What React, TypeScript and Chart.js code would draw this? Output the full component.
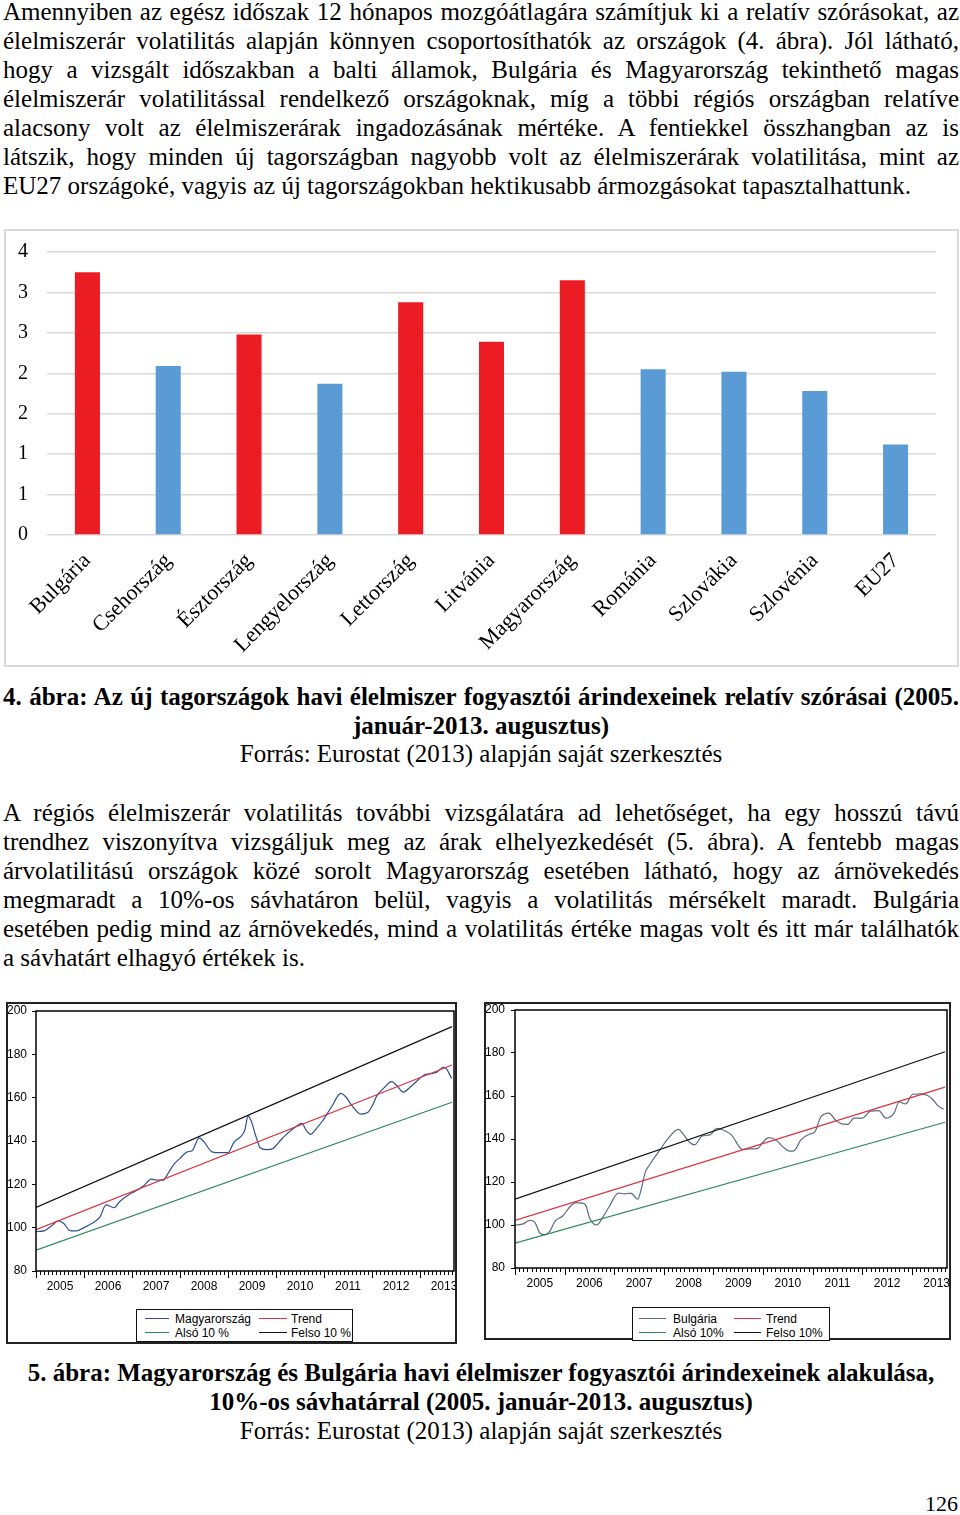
import React, { useEffect, useRef } from "react";
import { Chart, registerables } from "chart.js";

Chart.register(...registerables);

// ---------- Figure 4 data ----------
const barCategories = [
  "Bulgária", "Csehország", "Észtország", "Lengyelország", "Lettország", "Litvánia",
  "Magyarország", "Románia", "Szlovákia", "Szlovénia", "EU27",
];
const barValues = [3.25, 2.09, 2.48, 1.87, 2.88, 2.39, 3.15, 2.05, 2.02, 1.78, 1.12];
const highVolatility = [true, false, true, false, true, true, true, false, false, false, false];
const barTickValues = [0, 0.5, 1, 1.5, 2, 2.5, 3, 3.5];
const barTickLabels = ["0", "1", "1", "2", "2", "3", "3", "4"];

// ---------- Figure 5 data ----------
const yearLabels = ["2005", "2006", "2007", "2008", "2009", "2010", "2011", "2012", "2013"];
const lineTickValues = [80, 100, 120, 140, 160, 180, 200];
const bandMonths = [0, 104];

const huMonths = [0, 2, 4, 5.5, 7, 8.5, 10, 12, 14, 16, 17.5, 19.5, 21, 23, 25, 27, 28.8, 30, 31.8, 33,
  34.5, 36, 37.8, 39, 40.8, 42, 44, 46, 48, 49.5, 51.3, 52.2, 53, 53.7, 55, 56, 57.5, 59.3, 61, 62,
  64.5, 66.5, 67.5, 68.7, 70, 71.8, 73.9, 76.2, 77.5, 79, 81.2, 83, 84, 85.2, 87, 88.9, 90.2, 91.8, 93.5, 95.6,
  97, 98.5, 100.2, 101.8, 102.5, 103.9];
const huValues = [98.2, 98.5, 101, 103.2, 101.8, 98.6, 98.5, 100, 102, 105, 110.5, 109.2, 112.2, 115, 117, 119.5, 122.4, 122, 121.9, 125,
  129.3, 132, 135, 135.5, 141.4, 139.6, 135, 134.6, 134.6, 139.5, 142.2, 145, 151.5, 149.7, 142, 137, 136, 136.6, 140, 142,
  146, 148.1, 145, 143.1, 145.5, 149.7, 155.8, 162, 160.3, 156.3, 152.4, 153.3, 156, 160.8, 164.5, 167.4, 165.6, 162.6, 164.8, 168.3,
  170.5, 171, 171.8, 174, 173.6, 168.9];
const huTrend = [99.1, 175.1];
const huUpper = [109.3, 192.8];
const huLower = [89.6, 157.9];

const bgMonths = [0, 2, 3.5, 4.8, 6, 7.3, 8.4, 9.7, 11.6, 13.3, 14.8, 16.2, 17.2, 18, 19.8, 21.2, 22.8, 25, 26.5, 28,
  29.7, 30.5, 31.5, 32.5, 35, 37.2, 39.5, 41, 42.2, 43.5, 45.2, 47.2, 48.8, 51, 52.4, 55, 56.8, 58.6, 60, 61.4,
  63.2, 65, 66.5, 67.5, 69.1, 71.3, 72.5, 73.9, 75.9, 77.6, 79, 80.5, 82, 84, 86, 88, 89.7, 91.7, 92.9, 94.5,
  96.2, 98.5, 99.8, 101, 102.3, 103.7];
const bgValues = [100, 100.5, 102.2, 101.2, 96.3, 95.5, 97, 101.8, 104.3, 108.5, 110.4, 110.2, 108.8, 103.5, 100, 103.5, 108.6, 114.8, 114.5, 114.8,
  112, 116.4, 124.5, 127.8, 134.8, 140.6, 144.5, 141.5, 138.5, 137.3, 141.3, 141.9, 145, 143.6, 141.8, 135.2, 135.4, 135.5, 138.6, 140.6,
  139.4, 136, 134.4, 134.5, 139.5, 142.3, 143.2, 150, 152, 148.7, 147, 146.8, 149.7, 149.7, 153, 153.2, 149.7, 152, 157.2, 156.3,
  160.8, 161, 160.2, 158.5, 155.5, 153.8];
const bgTrend = [102.1, 164.1];
const bgUpper = [112, 180.6];
const bgLower = [91.6, 147.8];

// ---------- Text ----------
const para1 = [
  "Amennyiben az egész időszak 12 hónapos mozgóátlagára számítjuk ki a relatív szórásokat, az",
  "élelmiszerár volatilitás alapján könnyen csoportosíthatók az országok (4. ábra). Jól látható,",
  "hogy a vizsgált időszakban a balti államok, Bulgária és Magyarország tekinthető magas",
  "élelmiszerár volatilitással rendelkező országoknak, míg a többi régiós országban relatíve",
  "alacsony volt az élelmiszerárak ingadozásának mértéke. A fentiekkel összhangban az is",
  "látszik, hogy minden új tagországban nagyobb volt az élelmiszerárak volatilitása, mint az",
  "EU27 országoké, vagyis az új tagországokban hektikusabb ármozgásokat tapasztalhattunk.",
];
const para2 = [
  "A régiós élelmiszerár volatilitás további vizsgálatára ad lehetőséget, ha egy hosszú távú",
  "trendhez viszonyítva vizsgáljuk meg az árak elhelyezkedését (5. ábra). A fentebb magas",
  "árvolatilitású országok közé sorolt Magyarország esetében látható, hogy az árnövekedés",
  "megmaradt a 10%-os sávhatáron belül, vagyis a volatilitás mérsékelt maradt. Bulgária",
  "esetében pedig mind az árnövekedés, mind a volatilitás értéke magas volt és itt már találhatók",
  "a sávhatárt elhagyó értékek is.",
];
const caption4 = [
  "4. ábra: Az új tagországok havi élelmiszer fogyasztói árindexeinek relatív szórásai (2005.",
  "január-2013. augusztus)",
];
const caption5 = [
  "5. ábra: Magyarország és Bulgária havi élelmiszer fogyasztói árindexeinek alakulása,",
  "10%-os sávhatárral (2005. január-2013. augusztus)",
];
const sourceText = "Forrás: Eurostat (2013) alapján saját szerkesztés";
const pageNumber = "126";

const RED = "#EC1C24";
const BLUE = "#5B9BD5";
const SERIF = '"Liberation Serif", "Times New Roman", serif';
const SANS = '"Liberation Sans", Arial, sans-serif';

function TextLine(props: { top: number; text: string; mode: string; bold?: boolean; size?: number; left?: number; width?: number }) {
  const { top, text, mode, bold, size = 25, left = 3, width = 956 } = props;
  const style: React.CSSProperties = {
    position: "absolute",
    left,
    top,
    width,
    height: 29,
    lineHeight: "29px",
    fontSize: size,
    fontWeight: bold ? "bold" : "normal",
    whiteSpace: "nowrap",
    textAlign: mode as any,
    textAlignLast: mode as any,
    fontFamily: SERIF,
  };
  return <div style={style}>{text}</div>;
}

function BarChart() {
  const ref = useRef<HTMLCanvasElement | null>(null);
  useEffect(() => {
    if (!ref.current) return;
    const chart = new Chart(ref.current, {
      type: "bar",
      data: {
        labels: barCategories,
        datasets: [
          {
            data: barValues,
            backgroundColor: highVolatility.map((h) => (h ? RED : BLUE)),
            barPercentage: 0.31,
            categoryPercentage: 1,
          },
        ],
      },
      options: {
        responsive: false,
        animation: false,
        layout: { padding: { top: 21, right: 21, left: 0, bottom: 0 } },
        plugins: { legend: { display: false }, tooltip: { enabled: false } },
        scales: {
          x: {
            grid: { display: false },
            border: { display: false },
            ticks: {
              autoSkip: false,
              minRotation: 45,
              maxRotation: 45,
              padding: 5,
              color: "#000",
              font: { family: SERIF, size: 22 },
            },
            afterFit: (s: any) => {
              s.height = 130;
            },
          },
          y: {
            min: 0,
            max: 3.5,
            afterBuildTicks: (s: any) => {
              s.ticks = barTickValues.map((v) => ({ value: v }));
            },
            ticks: {
              callback: (_v: any, i: number) => barTickLabels[i],
              padding: 19,
              color: "#000",
              font: { family: SERIF, size: 20 },
            },
            grid: { color: "#d9d9d9", lineWidth: 1.5, drawTicks: false },
            border: { display: false },
            afterFit: (s: any) => {
              s.width = 41;
              s.paddingTop = 0;
              s.paddingBottom = 0;
            },
          },
        },
      },
    });
    return () => chart.destroy();
  }, []);
  return (
    <div
      style={{
        position: "absolute",
        left: 4,
        top: 229,
        width: 955,
        height: 438,
        boxSizing: "border-box",
        border: "2px solid #d9d9d9",
        background: "#fff",
      }}
    >
      <canvas ref={ref} width={951} height={434} style={{ display: "block", width: 951, height: 434 }} />
    </div>
  );
}

const timeAxisPlugin = {
  id: "timeAxis",
  afterDraw(chart: any) {
    const { ctx, chartArea, scales } = chart;
    const { left, right, top, bottom } = chartArea;
    const x = scales.x;
    ctx.save();
    ctx.strokeStyle = "#000";
    ctx.lineWidth = 1.5;
    ctx.strokeRect(left, top, right - left, bottom - top);
    ctx.lineWidth = 1;
    for (let m = 0; m <= 104; m++) {
      const px = Math.round(x.getPixelForValue(m)) + 0.5;
      const len = m % 12 === 0 ? 7 : 4;
      ctx.beginPath();
      ctx.moveTo(px, bottom);
      ctx.lineTo(px, bottom + len);
      ctx.stroke();
    }
    ctx.fillStyle = "#000";
    ctx.font = "12px " + SANS;
    ctx.textAlign = "center";
    ctx.textBaseline = "middle";
    yearLabels.forEach((lab, k) => {
      ctx.fillText(lab, x.getPixelForValue(12 * k + 6), bottom + 16);
    });
    ctx.restore();
  },
};

type LineProps = {
  left: number;
  top: number;
  width: number;
  height: number;
  months: number[];
  values: number[];
  trend: number[];
  upper: number[];
  lower: number[];
  seriesColor: string;
  yWidth: number;
  xHeight: number;
  padTop: number;
  padRight: number;
  labelPad: number;
  legend: { left: number; top: number; width: number; height: number; labels: string[]; rows: number[]; cols: number[][] };
};

const LINE_COLORS = { trend: "#D9343E", lower: "#2E8B57", upper: "#111111" };

function LineChart(p: LineProps) {
  const ref = useRef<HTMLCanvasElement | null>(null);
  useEffect(() => {
    if (!ref.current) return;
    const pts = (ms: number[], vs: number[]) => ms.map((m, i) => ({ x: m, y: vs[i] }));
    const common = { pointRadius: 0, borderWidth: 1.2, fill: false };
    const chart = new Chart(ref.current, {
      type: "line",
      data: {
        datasets: [
          { ...common, data: pts(bandMonths, p.upper), borderColor: LINE_COLORS.upper },
          { ...common, data: pts(bandMonths, p.lower), borderColor: LINE_COLORS.lower },
          { ...common, data: pts(bandMonths, p.trend), borderColor: LINE_COLORS.trend },
          { ...common, data: pts(p.months, p.values), borderColor: p.seriesColor, cubicInterpolationMode: "monotone" as const },
        ],
      },
      options: {
        responsive: false,
        animation: false,
        layout: { padding: { top: p.padTop, right: p.padRight, left: 0, bottom: 0 } },
        plugins: { legend: { display: false }, tooltip: { enabled: false } },
        scales: {
          x: {
            type: "linear",
            min: 0,
            max: 104.5,
            ticks: { display: false },
            grid: { display: false },
            border: { display: false },
            afterFit: (s: any) => {
              s.height = p.xHeight;
            },
          },
          y: {
            min: 80,
            max: 200,
            afterBuildTicks: (s: any) => {
              s.ticks = lineTickValues.map((v) => ({ value: v }));
            },
            ticks: { color: "#000", padding: p.labelPad, font: { family: SANS, size: 12 } },
            grid: { drawOnChartArea: false, tickLength: 4, color: "#000", tickColor: "#000" },
            border: { display: false },
            afterFit: (s: any) => {
              s.width = p.yWidth;
              s.paddingTop = 0;
              s.paddingBottom = 0;
            },
          },
        },
      },
      plugins: [timeAxisPlugin],
    });
    return () => chart.destroy();
  }, []);
  const lg = p.legend;
  const swatches = [p.seriesColor, LINE_COLORS.trend, LINE_COLORS.lower, LINE_COLORS.upper];
  return (
    <div
      style={{
        position: "absolute",
        left: p.left,
        top: p.top,
        width: p.width,
        height: p.height,
        boxSizing: "border-box",
        border: "2px solid #222",
        background: "#fff",
      }}
    >
      <canvas
        ref={ref}
        width={p.width - 4}
        height={p.height - 4}
        style={{ display: "block", width: p.width - 4, height: p.height - 4 }}
      />
      <div
        style={{
          position: "absolute",
          left: lg.left,
          top: lg.top,
          width: lg.width,
          height: lg.height,
          boxSizing: "border-box",
          border: "1.5px solid #111",
          background: "#fff",
          fontFamily: SANS,
          fontSize: 12,
        }}
      >
        {lg.labels.map((lab, i) => {
          const row = lg.rows[Math.floor(i / 2)];
          const col = lg.cols[i % 2];
          return (
            <React.Fragment key={lab}>
              <div
                style={{
                  position: "absolute",
                  left: col[0],
                  top: row - 0.6,
                  width: col[1] - col[0],
                  height: 0,
                  borderTop: "1.3px solid " + swatches[i],
                }}
              />
              <div
                style={{
                  position: "absolute",
                  left: col[2],
                  top: row - 8,
                  height: 16,
                  lineHeight: "16px",
                  whiteSpace: "nowrap",
                }}
              >
                {lab}
              </div>
            </React.Fragment>
          );
        })}
      </div>
    </div>
  );
}

export default function App() {
  return (
    <div
      style={{
        position: "absolute",
        left: 0,
        top: 0,
        width: 960,
        height: 1515,
        background: "#fff",
        color: "#000",
        fontFamily: SERIF,
      }}
    >
      {para1.map((t, i) => (
        <TextLine key={"a" + i} top={-3 + 29 * i} text={t} mode={i < para1.length - 1 ? "justify" : "left"} />
      ))}
      <BarChart />
      <TextLine top={682} text={caption4[0]} mode="justify" bold />
      <TextLine top={711} text={caption4[1]} mode="center" bold left={0} width={962} />
      <TextLine top={739} text={sourceText} mode="center" left={0} width={962} />
      {para2.map((t, i) => (
        <TextLine key={"b" + i} top={798 + 29 * i} text={t} mode={i < para2.length - 1 ? "justify" : "left"} />
      ))}
      <LineChart
        left={6}
        top={1002}
        width={451}
        height={342}
        months={huMonths}
        values={huValues}
        trend={huTrend}
        upper={huUpper}
        lower={huLower}
        seriesColor="#2E4F8E"
        yWidth={28}
        xHeight={71}
        padTop={7}
        padRight={1}
        labelPad={5}
        legend={{
          left: 128,
          top: 305,
          width: 217,
          height: 33,
          labels: ["Magyarország", "Trend", "Alsó 10 %", "Felso 10 %"],
          rows: [9, 23],
          cols: [[8, 32, 38], [122, 150, 154]],
        }}
      />
      <LineChart
        left={484}
        top={1002}
        width={467}
        height={338}
        months={bgMonths}
        values={bgValues}
        trend={bgTrend}
        upper={bgUpper}
        lower={bgLower}
        seriesColor="#5A6B80"
        yWidth={29}
        xHeight={70}
        padTop={6}
        padRight={2}
        labelPad={6}
        legend={{
          left: 146,
          top: 303,
          width: 198,
          height: 34,
          labels: ["Bulgária", "Trend", "Alsó 10%", "Felso 10%"],
          rows: [11, 25],
          cols: [[6, 33, 40], [101, 128, 133]],
        }}
      />
      <TextLine top={1358} text={caption5[0]} mode="center" bold left={0} width={962} />
      <TextLine top={1387} text={caption5[1]} mode="center" bold left={0} width={962} />
      <TextLine top={1416} text={sourceText} mode="center" left={0} width={962} />
      <TextLine top={1489} text={pageNumber} mode="right" size={22} left={0} width={958} />
    </div>
  );
}
